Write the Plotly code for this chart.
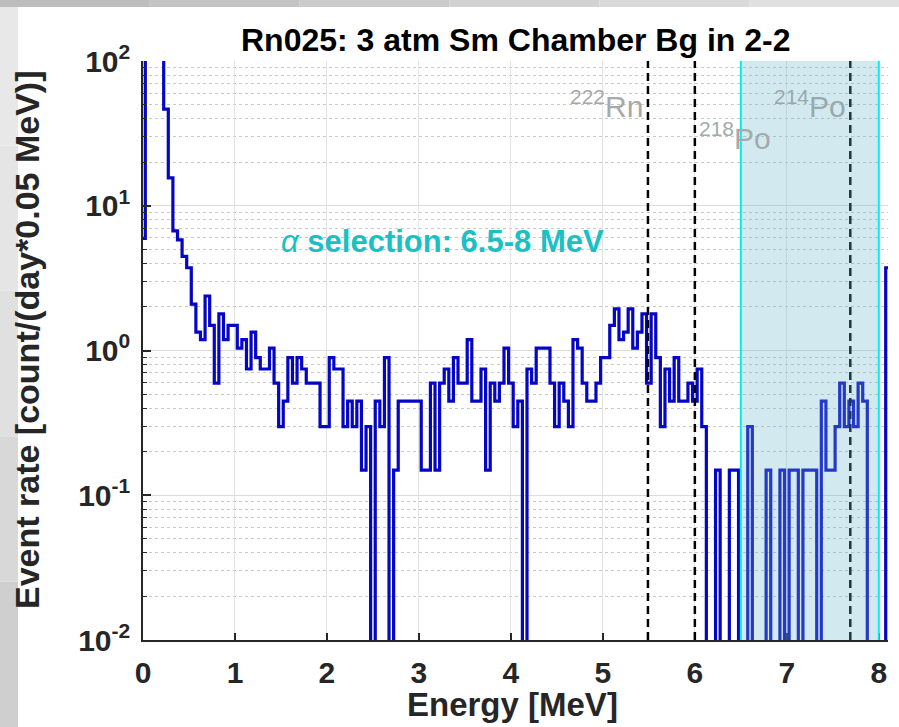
import plotly.graph_objects as go

# ---------------- data ----------------
bin_width = 0.05          # MeV
rate = [
    5.96, 180, 420, 350, 210, 46.5, 15.6, 6.70, 5.81, 4.47,
    3.73, 2.09, 1.34, 1.19, 2.38, 1.49, 0.596, 1.79, 1.19, 1.49,
    1.49, 1.04, 1.19, 0.745, 1.34, 0.894, 0.745, 0.745, 1.04, 0.596,
    0.298, 0.447, 0.894, 0.596, 0.894, 0.745, 0.596, 0.596, 0.596, 0.298,
    0.298, 0.894, 0.745, 0.745, 0.298, 0.447, 0.298, 0.447, 0.149, 0.298,
    0, 0.447, 0.298, 0.894, 0, 0.149, 0.447, 0.447, 0.447, 0.447,
    0.447, 0.149, 0.149, 0.596, 0.149, 0.596, 0.745, 0.447, 0.894, 0.596,
    0.596, 1.19, 0.447, 0.447, 0.745, 0.149, 0.596, 0.447, 0.596, 1.04,
    0.596, 0.298, 0.447, 0, 0.745, 0.596, 1.04, 1.04, 1.04, 0.596,
    0.298, 0.596, 0.447, 0.298, 1.19, 1.04, 0.596, 0.447, 0.447, 0.596,
    0.894, 0.894, 1.49, 1.94, 1.19, 1.34, 1.94, 1.04, 1.34, 1.79,
    0.596, 1.79, 0.894, 0.298, 0.745, 0.447, 0.894, 0.447, 0.447, 0.596,
    0.447, 0.745, 0.298, 0, 0, 0.149, 0, 0, 0.149, 0.149,
    0, 0, 0.298, 0, 0, 0, 0.149, 0, 0, 0.149,
    0, 0.149, 0.149, 0, 0.149, 0.149, 0.149, 0, 0.447, 0.149,
    0.149, 0.298, 0.596, 0.298, 0.447, 0.298, 0.596, 0.447, 0, 0,
    0, 0, 3.73,
]
peak_energies = [5.49, 6.00, 7.69]            # 222Rn, 218Po, 214Po
peak_labels = ["<sup>222</sup>Rn", "<sup>218</sup>Po", "<sup>214</sup>Po"]
alpha_window = [6.5, 8.0]
x_ticks = [0, 1, 2, 3, 4, 5, 6, 7, 8]
y_ticks = [0.01, 0.1, 1, 10, 100]
y_ticktext = ["10<sup>-2</sup>", "10<sup>-1</sup>", "10<sup>0</sup>",
              "10<sup>1</sup>", "10<sup>2</sup>"]

# ---------------- figure ----------------
W, H = 899, 727
L, R, T, B = 143, 11, 61, 87
pw, ph = W - L - R, H - T - B

def px(xp):      # pixel -> paper x
    return (xp - L) / pw

def py(yp):      # pixel -> paper y
    return (H - B - yp) / ph

centers = [i * bin_width for i in range(len(rate))]
xs = [c - bin_width / 2 for c in centers] + [centers[-1] + bin_width / 2]
floor = 1e-5     # empty bins drop below the axis, as in the original
ys = [v if v > 0 else floor for v in rate] + [rate[-1] if rate[-1] > 0 else floor]

FONT = "Liberation Sans, Arial, Helvetica, sans-serif"

fig = go.Figure()
fig.add_trace(go.Scatter(
    x=xs, y=ys, mode="lines", line=dict(color="#0505c4", width=3.2, shape="hv"),
    showlegend=False, hoverinfo="skip"))

shapes = []
# gray slide frame (left and top)
left_cols = ["#cfcfcf", "#d8d8d8", "#e0e0e0", "#e5e5e5", "#e8e8e8"]
nseg = len(left_cols)
for i, c in enumerate(left_cols):
    y0 = H - (i + 1) * H / nseg
    y1 = H - i * H / nseg
    shapes.append(dict(type="rect", xref="paper", yref="paper",
                       x0=px(0), x1=px(18), y0=py(y1), y1=py(y0),
                       fillcolor=c, line=dict(width=0), layer="above"))
top_cols = ["#bdbdbd", "#c4c4c4", "#cbcbcb", "#d2d2d2", "#d9d9d9", "#e0e0e0"]
for i, c in enumerate(top_cols):
    x0 = i * W / len(top_cols)
    x1 = (i + 1) * W / len(top_cols)
    shapes.append(dict(type="rect", xref="paper", yref="paper",
                       x0=px(x0), x1=px(x1), y0=py(7), y1=py(0),
                       fillcolor=c, line=dict(width=0), layer="above"))

# dashed peak lines
for e in peak_energies:
    shapes.append(dict(type="line", xref="x", yref="paper", x0=e, x1=e, y0=0, y1=1,
                       line=dict(color="black", width=2.5, dash="8px,5px"), layer="above"))
# alpha selection window (drawn over the data, semi-transparent)
shapes.append(dict(type="rect", xref="x", yref="paper", x0=alpha_window[0], x1=alpha_window[1],
                   y0=0, y1=1, fillcolor="rgb(108,182,205)", opacity=0.3,
                   line=dict(width=0), layer="above"))
for e in alpha_window:
    shapes.append(dict(type="line", xref="x", yref="paper", x0=e, x1=e, y0=0, y1=1,
                       line=dict(color="#00eef0", width=2), layer="above"))

annotations = [
    dict(text="Rn025: 3 atm Sm Chamber Bg in 2-2", xref="paper", yref="paper",
         x=px(515), y=py(40), xanchor="center", yanchor="middle", showarrow=False,
         font=dict(family=FONT, size=32, color="black", weight="bold")),
    dict(text="Energy [MeV]", xref="paper", yref="paper",
         x=px(512), y=py(704), xanchor="center", yanchor="middle", showarrow=False,
         font=dict(family=FONT, size=33, color="#262626", weight="bold")),
    dict(text="Event rate [count/(day*0.05 MeV)]", xref="paper", yref="paper",
         x=px(27), y=py(340), xanchor="center", yanchor="middle", showarrow=False,
         textangle=-90,
         font=dict(family=FONT, size=34, color="#262626", weight="bold")),
    dict(text="<i>α</i><b> selection: 6.5-8 MeV</b>", xref="paper", yref="paper",
         x=px(279), y=py(241), xanchor="left", yanchor="middle", showarrow=False,
         font=dict(family=FONT, size=31, color="#19c0c4")),
    dict(text=peak_labels[0], xref="x", yref="paper", x=peak_energies[0] - 0.03, y=py(104),
         xanchor="right", yanchor="middle", showarrow=False,
         font=dict(family=FONT, size=30, color="#a8a8a8")),
    dict(text=peak_labels[1], xref="x", yref="paper", x=peak_energies[1] + 0.02, y=py(136),
         xanchor="left", yanchor="middle", showarrow=False,
         font=dict(family=FONT, size=30, color="#a3aaac")),
    dict(text=peak_labels[2], xref="x", yref="paper", x=peak_energies[2] - 0.03, y=py(104),
         xanchor="right", yanchor="middle", showarrow=False,
         font=dict(family=FONT, size=30, color="#97a9ae")),
]

tickfont = dict(family=FONT, size=30, color="#262626", weight="bold")
fig.update_layout(
    width=W, height=H, margin=dict(l=L, r=R, t=T, b=B, pad=0),
    paper_bgcolor="white", plot_bgcolor="white",
    shapes=shapes, annotations=annotations, showlegend=False,
    xaxis=dict(range=[0, 8.1], tickmode="array", tickvals=x_ticks,
               ticktext=[str(t) for t in x_ticks], tickfont=tickfont,
               ticks="inside", ticklen=7, tickwidth=1.5, tickcolor="#262626",
               showline=True, linecolor="#262626", linewidth=1.5,
               showgrid=True, gridcolor="#e2e2e2", gridwidth=1,
               zeroline=False, ticklabelstandoff=5),
    yaxis=dict(type="log", range=[-2, 2], tickmode="array", tickvals=y_ticks,
               ticktext=y_ticktext, tickfont=tickfont,
               ticks="inside", ticklen=8, tickwidth=1.5, tickcolor="#262626",
               showline=True, linecolor="#262626", linewidth=1.5,
               showgrid=True, gridcolor="#dcdcdc", gridwidth=1,
               minor=dict(ticks="inside", ticklen=4, tickcolor="#262626", tickwidth=1.2,
                          dtick="D1", showgrid=True, gridcolor="#c8c8c8",
                          griddash="dot", gridwidth=1),
               zeroline=False, ticklabelstandoff=5),
)

fig.write_html("out.html", config={"displayModeBar": False})
